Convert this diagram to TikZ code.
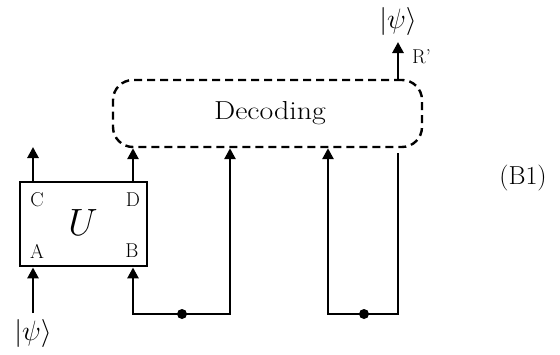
\documentclass[tikz,border=0pt]{standalone}
\usepackage{fix-cm}
\usetikzlibrary{arrows.meta}
\begin{document}
\begin{tikzpicture}[x=1pt,y=-1pt,
  wire/.style={line width=2.9pt},
  tip/.style={-{Triangle[length=11pt,width=11pt]}},
  blob/.style={circle,fill=black,inner sep=0pt,minimum size=10pt},
  lbl/.style={inner sep=0pt,font=\fontsize{20}{22}\selectfont},
  big/.style={inner sep=0pt,font=\fontsize{26}{30}\selectfont}]
\useasboundingbox (0,0) rectangle (560,354);
% boxes
\node[draw,line width=2.9pt,minimum width=127pt,minimum height=84pt,inner sep=0pt] (U) at (83.5,224) {};
\node[inner sep=0pt,font=\fontsize{38}{42}\selectfont] (Ulab) at (83,223) {$U$};
\node[lbl] (C) at (37,200) {C};
\node[lbl] (D) at (133,200) {D};
\node[lbl] (A) at (37,251) {A};
\node[lbl] (B) at (132,251) {B};
\node[draw,dashed,dash pattern=on 8pt off 5pt,line width=2.4pt,rounded corners=20pt,minimum width=309pt,minimum height=67pt,inner sep=0pt] (dec) at (267.5,113.5) {};
\node[big] (dectext) at (270,113) {\scalebox{1.15}[1]{Decoding}};
% labels
\node[big,font=\fontsize{28}{30}\selectfont] (psiin) at (33,333) {$|\psi\rangle$};
\node[big,font=\fontsize{28}{30}\selectfont] (psiout) at (398,21) {$|\psi\rangle$};
\node[inner sep=0pt,anchor=west,font=\fontsize{20}{22}\selectfont] (Rp) at (412,57) {R’};
\node[big] (eq) at (523,178) {(B1)};
% coordinates
\coordinate (inL) at (33,313);
\coordinate (outC) at (33,147);
\coordinate (dot1) at (182,314);
\coordinate (dot2) at (364,314);
\coordinate (e398) at (398,153);
\coordinate (outR) at (398,42);
\coordinate (x230) at (230,0);
\coordinate (x328) at (328,0);
\coordinate (x133) at (133,0);
% wires
\draw[wire,tip] (inL) -- (inL |- U.south);
\draw[wire,tip] (outC |- U.north) -- (outC);
\draw[wire,tip] (x133 |- U.north) -- (x133 |- dec.south);
\draw[wire,{Triangle[length=11pt,width=11pt]}-{Triangle[length=11pt,width=11pt]}] (x133 |- U.south) |- (dot1) -| (x230 |- dec.south);
\draw[wire,tip] (e398) |- (dot2) -| (x328 |- dec.south);
\draw[wire,tip] (outR |- dec.north) -- (outR);
\node[blob] (b1) at (dot1) {};
\node[blob] (b2) at (dot2) {};
\end{tikzpicture}
\end{document}
